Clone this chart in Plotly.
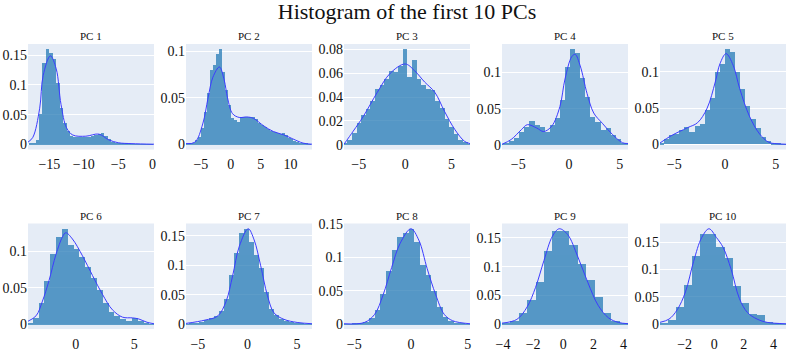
import plotly.graph_objects as go
from plotly.subplots import make_subplots

# ---------------- data ----------------
pc_names = ["PC 1", "PC 2", "PC 3", "PC 4", "PC 5", "PC 6", "PC 7", "PC 8", "PC 9", "PC 10"]

# histogram bins: start, width and density heights
pc1_bin_start, pc1_bin_width = -18.0, 0.5
pc1_heights = [0.002, 0.003, 0.008, 0.051, 0.137, 0.160, 0.154, 0.143, 0.103, 0.062, 0.037, 0.022,
               0.015, 0.013, 0.012, 0.012, 0.012, 0.013, 0.014, 0.016, 0.018, 0.019, 0.014, 0.009,
               0.005, 0.003, 0.002, 0.001, 0.001, 0.0005, 0.0005, 0.0004, 0.0003, 0.0003, 0.0003, 0.0003]
pc1_curve_x = [-18.1, -17.4, -16.4, -15.9, -14.85, -14.0, -13.3, -12.5, -11.6, -9.7, -7.8, -6.4, -5.0, -3.0, 0.2]
pc1_curve_y = [0.004, 0.012, 0.061, 0.116, 0.149, 0.127, 0.067, 0.028, 0.016, 0.014, 0.0175, 0.008, 0.003, 0.0015, 0.0005]

pc2_bin_start, pc2_bin_width = -7.5, 0.5
pc2_heights = [0.0005, 0.001, 0.002, 0.005, 0.008, 0.018, 0.035, 0.055, 0.080, 0.085, 0.097, 0.102,
               0.078, 0.058, 0.042, 0.028, 0.026, 0.024, 0.029, 0.030, 0.029, 0.030, 0.029, 0.027,
               0.023, 0.021, 0.019, 0.017, 0.015, 0.013, 0.012, 0.011, 0.012, 0.010, 0.007, 0.006,
               0.004, 0.003, 0.002, 0.001, 0.0008, 0.0005]
pc2_curve_x = [-7.5, -6.0, -4.7, -3.8, -3.0, -1.9, -1.1, -0.55, 0.3, 1.4, 2.7, 3.8, 5.5, 7.1, 8.8, 10.4, 12.1, 13.6]
pc2_curve_y = [0.001, 0.0025, 0.022, 0.050, 0.072, 0.083, 0.069, 0.050, 0.033, 0.029, 0.0295, 0.028,
               0.020, 0.014, 0.0105, 0.006, 0.0015, 0.0003]

pc3_bin_start, pc3_bin_width = -6.75, 0.5
pc3_heights = [0.001, 0.004, 0.010, 0.018, 0.025, 0.030, 0.037, 0.047, 0.050, 0.055, 0.062, 0.061,
               0.066, 0.080, 0.057, 0.071, 0.055, 0.050, 0.047, 0.046, 0.037, 0.031, 0.022, 0.015,
               0.009, 0.004, 0.002, 0.0005]
pc3_curve_x = [-6.6, -5.6, -4.5, -3.0, -1.6, 0.0, 1.0, 2.1, 3.2, 4.25, 5.35, 6.4, 7.0]
pc3_curve_y = [0.0005, 0.0115, 0.024, 0.044, 0.060, 0.0677, 0.0622, 0.0526, 0.044, 0.028, 0.013, 0.003, 0.001]

pc4_bin_start, pc4_bin_width = -6.9, 0.5
pc4_heights = [0.001, 0.002, 0.005, 0.010, 0.018, 0.025, 0.033, 0.027, 0.025, 0.018, 0.027, 0.037,
               0.062, 0.107, 0.132, 0.127, 0.093, 0.066, 0.039, 0.032, 0.021, 0.024, 0.014, 0.008,
               0.003, 0.001]
pc4_curve_x = [-6.6, -5.7, -4.7, -4.1, -3.2, -2.5, -1.7, -0.9, -0.4, 0.27, 0.6, 1.1, 1.77, 2.43, 3.27, 4.27, 5.27, 5.8]
pc4_curve_y = [0.001, 0.0075, 0.021, 0.028, 0.0235, 0.0185, 0.026, 0.053, 0.091, 0.122, 0.125, 0.109,
               0.071, 0.044, 0.030, 0.0145, 0.003, 0.002]

pc5_bin_start, pc5_bin_width = -6.5, 0.5
pc5_heights = [0.001, 0.008, 0.013, 0.015, 0.020, 0.024, 0.017, 0.026, 0.028, 0.048, 0.064, 0.100,
               0.111, 0.131, 0.127, 0.100, 0.077, 0.053, 0.035, 0.023, 0.010, 0.005, 0.002, 0.001, 0.0005]
pc5_curve_x = [-6.4, -5.3, -3.7, -2.7, -1.76, -0.96, -0.5, 0.1, 0.8, 1.44, 2.4, 3.4, 4.3, 5.1, 6.0]
pc5_curve_y = [0.002, 0.012, 0.023, 0.030, 0.050, 0.086, 0.111, 0.125, 0.109, 0.077, 0.039, 0.0145, 0.003, 0.001, 0.0003]

pc6_bin_start, pc6_bin_width = -4.2, 0.5
pc6_heights = [0.002, 0.009, 0.030, 0.060, 0.097, 0.120, 0.131, 0.109, 0.104, 0.093, 0.080, 0.064,
               0.048, 0.030, 0.018, 0.012, 0.0075, 0.006, 0.009, 0.005, 0.003, 0.001]
pc6_curve_x = [-4.1, -3.4, -2.86, -2.3, -1.7, -1.14, -0.86, -0.29, 0.57, 1.43, 2.29, 3.14, 4.0, 4.86, 5.4, 6.1, 6.7]
pc6_curve_y = [0.0044, 0.012, 0.032, 0.060, 0.096, 0.120, 0.1256, 0.117, 0.094, 0.067, 0.041, 0.020,
               0.010, 0.009, 0.0075, 0.003, 0.001]

pc7_bin_start, pc7_bin_width = -6.35, 0.5
pc7_heights = [0.0005, 0.001, 0.002, 0.004, 0.008, 0.011, 0.014, 0.023, 0.044, 0.084, 0.121, 0.155,
               0.162, 0.140, 0.118, 0.096, 0.055, 0.027, 0.016, 0.010, 0.006, 0.004, 0.002, 0.001,
               0.0008, 0.0005]
pc7_curve_x = [-6.2, -4.3, -3.0, -2.17, -1.5, -0.83, 0.07, 0.67, 1.33, 2.0, 2.67, 3.67, 5.0, 6.5]
pc7_curve_y = [0.001, 0.0066, 0.0137, 0.038, 0.082, 0.132, 0.162, 0.143, 0.099, 0.049, 0.019, 0.008, 0.0027, 0.0005]

pc8_bin_start, pc8_bin_width = -6.2, 0.5
pc8_heights = [0.0003, 0.0005, 0.001, 0.002, 0.004, 0.010, 0.022, 0.046, 0.080, 0.112, 0.131, 0.138,
               0.143, 0.124, 0.090, 0.075, 0.051, 0.027, 0.012, 0.005, 0.002, 0.001, 0.0005]
pc8_curve_x = [-5.9, -4.1, -3.2, -2.45, -1.7, -0.96, 0.0, 0.69, 1.43, 2.18, 2.93, 3.67, 5.2]
pc8_curve_y = [0.0005, 0.0024, 0.0146, 0.044, 0.085, 0.121, 0.143, 0.126, 0.083, 0.044, 0.0146, 0.005, 0.0005]

pc9_bin_start, pc9_bin_width = -4.08, 0.56
pc9_heights = [0.002, 0.006, 0.020, 0.043, 0.075, 0.129, 0.163, 0.163, 0.138, 0.105, 0.077, 0.048,
               0.020, 0.006, 0.002]
pc9_curve_x = [-4.07, -3.08, -2.4, -1.84, -1.28, -0.72, -0.27, 0.29, 0.97, 1.64, 2.31, 3.0, 3.66, 4.3]
pc9_curve_y = [0.0017, 0.0083, 0.030, 0.064, 0.111, 0.153, 0.166, 0.156, 0.117, 0.072, 0.033, 0.011, 0.003, 0.0007]

pc10_bin_start, pc10_bin_width = -3.66, 0.545
pc10_heights = [0.003, 0.009, 0.032, 0.072, 0.125, 0.166, 0.166, 0.142, 0.122, 0.070, 0.040, 0.020,
                0.018, 0.004, 0.002, 0.0008]
pc10_curve_x = [-3.66, -3.05, -2.5, -1.94, -1.39, -0.84, -0.35, 0.15, 0.6, 1.15, 1.7, 2.25, 2.9, 3.58, 4.85]
pc10_curve_y = [0.003, 0.009, 0.026, 0.059, 0.115, 0.159, 0.175, 0.159, 0.141, 0.100, 0.047, 0.021, 0.009, 0.003, 0.0005]

x_dticks = [5, 5, 5, 5, 5, 5, 5, 5, 2, 2]
y_dticks = [0.05, 0.05, 0.02, 0.05, 0.05, 0.05, 0.05, 0.05, 0.05, 0.05]

panels = [
    (pc1_bin_start, pc1_bin_width, pc1_heights, pc1_curve_x, pc1_curve_y),
    (pc2_bin_start, pc2_bin_width, pc2_heights, pc2_curve_x, pc2_curve_y),
    (pc3_bin_start, pc3_bin_width, pc3_heights, pc3_curve_x, pc3_curve_y),
    (pc4_bin_start, pc4_bin_width, pc4_heights, pc4_curve_x, pc4_curve_y),
    (pc5_bin_start, pc5_bin_width, pc5_heights, pc5_curve_x, pc5_curve_y),
    (pc6_bin_start, pc6_bin_width, pc6_heights, pc6_curve_x, pc6_curve_y),
    (pc7_bin_start, pc7_bin_width, pc7_heights, pc7_curve_x, pc7_curve_y),
    (pc8_bin_start, pc8_bin_width, pc8_heights, pc8_curve_x, pc8_curve_y),
    (pc9_bin_start, pc9_bin_width, pc9_heights, pc9_curve_x, pc9_curve_y),
    (pc10_bin_start, pc10_bin_width, pc10_heights, pc10_curve_x, pc10_curve_y),
]

# ---------------- figure ----------------
FONT = "Liberation Serif"
W, H = 787, 352
ML, MR, MT, MB = 28, 1, 44, 23

fig = make_subplots(
    rows=2, cols=5, subplot_titles=pc_names,
    horizontal_spacing=32 / (W - ML - MR),
    vertical_spacing=74 / (H - MT - MB),
)

for i, (start, width, heights, cx, cy) in enumerate(panels):
    r, c = i // 5 + 1, i % 5 + 1
    centers = [start + width * (k + 0.5) for k in range(len(heights))]
    fig.add_trace(go.Bar(x=centers, y=heights, width=width,
                         marker=dict(color="#1f77b4", line=dict(width=0)),
                         opacity=0.72, showlegend=False, hoverinfo="skip"),
                  row=r, col=c)
    fig.add_trace(go.Scatter(x=cx, y=cy, mode="lines", line_shape="spline",
                             line=dict(color="rgb(60,60,255)", width=1),
                             showlegend=False, hoverinfo="skip"),
                  row=r, col=c)
    fig.update_xaxes(range=[cx[0], cx[-1]], dtick=x_dticks[i], showgrid=False, zeroline=False,
                     automargin=False, ticks="outside", ticklen=2, tickcolor="rgba(0,0,0,0)",
                     tickfont=dict(family=FONT, size=14, color="#111"), row=r, col=c)
    fig.update_yaxes(dtick=y_dticks[i], gridcolor="white", zeroline=False, automargin=False,
                     tickfont=dict(family=FONT, size=14, color="#111"), row=r, col=c)

for ann in fig.layout.annotations:
    ann.font = dict(family=FONT, size=11, color="#111")

fig.update_layout(
    width=W, height=H,
    template="plotly",
    barmode="overlay", bargap=0,
    margin=dict(l=ML, r=MR, t=MT, b=MB),
    title=dict(text="Histogram of the first 10 PCs", x=0.5, xref="paper",
               y=1 - 11 / H, yref="container", yanchor="middle",
               font=dict(family=FONT, size=22, color="#111")),
    plot_bgcolor="#E5ECF6", paper_bgcolor="white",
    font=dict(family=FONT),
)

fig.write_html("out.html", config={"displayModeBar": False},
               post_script="document.body.style.margin='0';")
